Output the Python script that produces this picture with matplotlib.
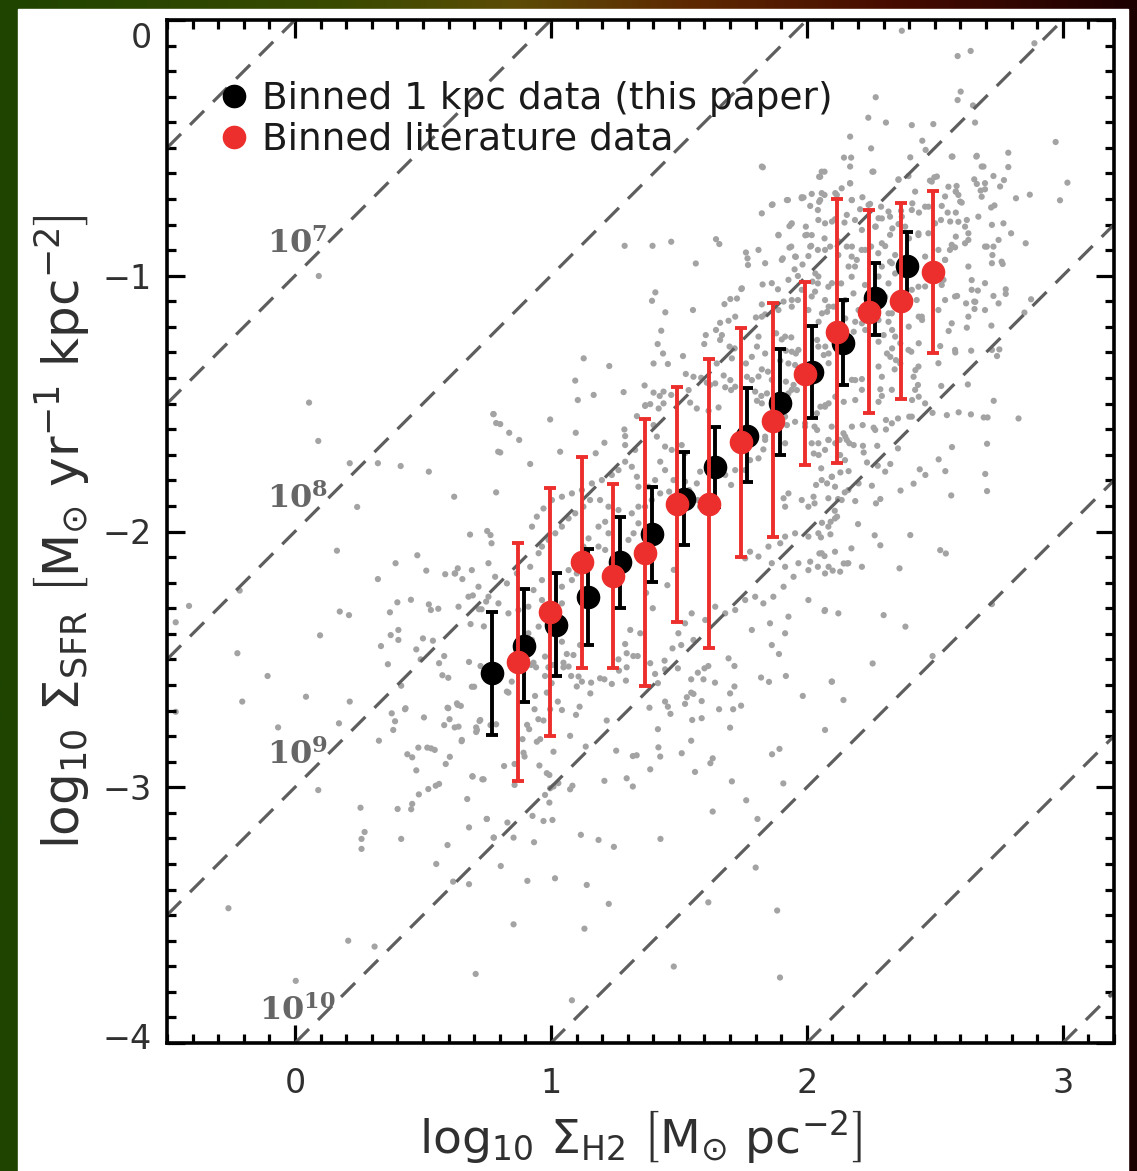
import numpy as np
import matplotlib
matplotlib.use("Agg")
import matplotlib.pyplot as plt
from matplotlib.lines import Line2D
from matplotlib.patches import Rectangle
from matplotlib.ticker import MultipleLocator, FixedLocator
from matplotlib.transforms import ScaledTranslation

plt.rcParams['font.family'] = ['DejaVu Sans']
plt.rcParams['mathtext.fontset'] = 'dejavusans'

# ---------------- data ----------------
# binned 1 kpc data (this paper)
bin_x = [0.770, 0.893, 1.020, 1.145, 1.271, 1.395, 1.521, 1.642, 1.766, 1.895, 2.020, 2.143, 2.266, 2.391]
bin_y = [-2.554, -2.447, -2.366, -2.257, -2.120, -2.010, -1.873, -1.747, -1.625, -1.498, -1.376, -1.262, -1.087, -0.961]
bin_hi = [-2.314, -2.225, -2.163, -2.070, -1.942, -1.825, -1.690, -1.590, -1.440, -1.288, -1.196, -1.095, -0.950, -0.829]
bin_lo = [-2.796, -2.668, -2.564, -2.444, -2.300, -2.196, -2.053, -1.903, -1.808, -1.701, -1.556, -1.427, -1.232, -1.095]

# binned literature data
lit_x = [0.870, 0.995, 1.120, 1.242, 1.366, 1.492, 1.616, 1.742, 1.867, 1.991, 2.117, 2.241, 2.367, 2.492]
lit_y = [-2.509, -2.314, -2.120, -2.174, -2.083, -1.894, -1.894, -1.649, -1.567, -1.384, -1.219, -1.141, -1.099, -0.987]
lit_hi = [-2.044, -1.829, -1.710, -1.815, -1.561, -1.436, -1.326, -1.203, -1.107, -1.023, -0.701, -0.743, -0.714, -0.669]
lit_lo = [-2.974, -2.798, -2.535, -2.533, -2.603, -2.353, -2.454, -2.099, -2.023, -1.740, -1.733, -1.535, -1.483, -1.303]

# depletion times of the dashed lines (yr)
tdep_lines = [1e6, 1e7, 1e8, 1e9, 1e10, 1e11, 1e12, 1e13]
tdep_labels = [7, 8, 9, 10]

x_ticks = [0, 1, 2, 3]
y_ticks = [0, -1, -2, -3, -4]

# individual 1 kpc pixels
pix_left = [
(0.093,-1.001),(0.055,-1.496),(0.091,-1.646),(0.214,-1.733),(0.324,-1.733),(0.413,-1.744),(0.523,-1.766),
(0.243,-1.904),(0.622,-1.864),(0.775,-1.541),(0.786,-1.576),(0.794,-1.688),(0.786,-1.847),(0.684,-2.012),
(0.751,-1.998),(0.764,-2.014),(0.768,-2.046),(0.164,-2.075),(0.478,-2.093),(0.393,-2.124),(0.513,-2.153),
(0.324,-2.186),(0.587,-2.167),(0.624,-2.164),(0.636,-2.144),(0.654,-2.186),(-0.414,-2.291),(-0.466,-2.355),
(-0.216,-2.231),(0.695,-2.250),(0.400,-2.277),(0.453,-2.267),(0.371,-2.316),(0.523,-2.285),(0.531,-2.307),
(0.560,-2.302),(0.747,-2.274),(0.729,-2.304),(0.719,-2.304),(0.175,-2.313),(0.211,-2.327),(0.686,-2.362),
(0.738,-2.371),(0.098,-2.406),(0.374,-2.405),(0.404,-2.385),(0.404,-2.424),(0.500,-2.418),(0.539,-2.427),
(0.336,-2.448),(0.474,-2.461),(0.491,-2.500),(0.583,-2.487),(0.563,-2.515),(-0.225,-2.476),(0.363,-2.519),
(0.680,-2.510),(0.725,-2.526),(-0.107,-2.565),(0.576,-2.562),(0.599,-2.572),(0.415,-2.603),(0.700,-2.607),
(0.043,-2.646),(-0.206,-2.665),(0.214,-2.665),(0.432,-2.691),(0.596,-2.689),(0.636,-2.678),
(-0.466,-2.705),(-0.066,-2.766),(0.172,-2.750),(0.378,-2.711),(0.430,-2.695),(0.391,-2.742),(0.384,-2.776),
(0.504,-2.727),(0.583,-2.757),(0.599,-2.691),(0.624,-2.766),(0.648,-2.682),(0.604,-2.734),(0.708,-2.766),
(0.708,-2.784),(0.721,-2.741),(0.764,-2.757),(0.786,-2.754),(0.328,-2.818),(0.439,-2.871),(0.458,-2.883),
(0.482,-2.845),(0.517,-2.845),(0.532,-2.848),(0.546,-2.854),(0.651,-2.820),(0.605,-2.881),(0.589,-2.909),
(0.474,-2.934),(0.693,-2.957),(0.732,-2.969),(0.091,-3.011),(0.521,-3.007),(0.550,-2.994),(0.563,-2.987),
(0.484,-3.028),(0.673,-3.046),(0.256,-3.080),(0.401,-3.085),(0.454,-3.086),(0.458,-3.065),(0.749,-3.124),
(0.680,-3.157),(0.272,-3.175),(0.260,-3.202),(0.260,-3.241),(0.415,-3.202),(0.777,-3.197),(0.596,-3.226),
(0.552,-3.300),(0.618,-3.369),(0.680,-3.379),(-0.260,-3.473),(0.208,-3.600),(0.311,-3.623),(0.706,-3.730),
(0.003,-3.757),
]

pix_low = [
(1.043,-2.431),(1.062,-2.479),(1.088,-2.483),(1.114,-2.444),(0.977,-2.489),(0.932,-2.513),(0.923,-2.522),
(0.942,-2.531),(0.990,-2.531),(1.010,-2.522),(1.049,-2.513),(1.049,-2.531),(1.069,-2.528),(1.079,-2.565),
(1.108,-2.567),(1.121,-2.587),(1.101,-2.606),(0.977,-2.565),(1.003,-2.593),(0.984,-2.630),(0.847,-2.587),
(0.828,-2.626),(0.834,-2.630),(1.157,-2.591),(1.154,-2.633),(1.192,-2.574),(1.209,-2.578),(1.238,-2.596),
(1.264,-2.500),(1.290,-2.440),(1.296,-2.476),(1.322,-2.487),(1.339,-2.487),(1.296,-2.531),(1.266,-2.544),
(1.293,-2.583),(1.388,-2.515),(1.407,-2.557),(1.444,-2.505),(1.446,-2.539),(1.475,-2.457),(1.509,-2.444),
(1.496,-2.535),(1.418,-2.593),(1.548,-2.578),(1.574,-2.552),(1.600,-2.535),(1.615,-2.526),(1.596,-2.578),
(1.641,-2.591),(1.694,-2.496),(1.717,-2.526),(1.548,-2.630),(1.531,-2.648),(1.524,-2.674),(1.557,-2.635),
(1.589,-2.663),(1.446,-2.665),(1.457,-2.685),(1.467,-2.713),(1.385,-2.689),(1.700,-2.633),(1.717,-2.606),
(1.657,-2.695),(1.712,-2.695),(1.743,-2.681),(1.863,-2.444),(1.891,-2.479),(1.918,-2.565),(1.821,-2.571),
(1.852,-2.588),(1.984,-2.643),
(0.936,-2.695),(0.997,-2.695),(1.043,-2.698),(1.027,-2.665),(0.938,-2.643),(1.098,-2.717),(1.112,-2.685),
(0.951,-2.734),(0.971,-2.739),(0.907,-2.756),(0.915,-2.773),(0.889,-2.812),(0.945,-2.822),(0.958,-2.812),
(0.893,-2.865),(0.897,-2.880),(1.010,-2.861),(1.075,-2.799),(1.136,-2.841),(1.218,-2.739),(1.255,-2.857),
(1.320,-2.878),(1.335,-2.875),(1.418,-2.773),(1.420,-2.844),(1.427,-2.880),(1.388,-2.930),(1.511,-2.867),
(1.548,-2.818),(1.552,-2.737),(1.589,-2.730),(1.700,-2.767),(1.632,-2.887),(1.623,-2.906),(1.563,-2.940),
(1.707,-2.977),(1.893,-2.850),(1.864,-2.871),(1.908,-2.985),(0.817,-2.917),(0.858,-2.909),(0.955,-2.915),
(0.984,-2.945),(0.994,-2.952),(1.029,-2.984),(1.010,-2.997),(0.997,-3.004),(1.084,-2.994),(1.075,-3.008),
(1.209,-2.975),(1.296,-2.965),(1.320,-2.997),(0.858,-2.991),(0.737,-2.969),
(0.977,-3.030),(0.994,-3.060),(0.971,-3.132),(1.006,-3.128),(0.928,-3.112),(0.830,-3.138),(0.750,-3.124),
(0.854,-3.197),(0.776,-3.197),(0.934,-3.215),(1.117,-3.186),(1.186,-3.206),(1.246,-3.233),(1.428,-3.202),
(1.632,-3.095),(1.763,-3.051),(1.807,-3.124),(1.800,-3.314),(0.804,-3.308),(0.908,-3.366),(1.016,-3.356),
(1.140,-3.382),(1.226,-3.456),(0.854,-3.536),(1.131,-3.553),(1.615,-3.450),(1.884,-3.482),(1.480,-3.701),
(1.895,-3.744),(1.082,-3.833),(3.190,-3.810),
]

pix_top = [
(2.371,-0.042),(2.589,-0.141),(2.640,-0.121),(2.889,-0.091),(2.601,-0.280),(2.589,-0.313),(2.649,-0.334),
(2.269,-0.302),(2.240,-0.382),(2.309,-0.401),(2.410,-0.411),(2.494,-0.407),(2.657,-0.401),(2.169,-0.456),
(2.251,-0.502),(2.451,-0.472),(2.464,-0.508),(2.145,-0.538),(2.173,-0.538),(2.169,-0.573),(2.404,-0.537),
(2.569,-0.534),(2.662,-0.534),(2.787,-0.519),(2.787,-0.575),(2.690,-0.573),(2.972,-0.477),(3.018,-0.636),
(2.989,-0.705),(2.871,-0.683),(2.817,-0.697),(2.256,-0.593),(2.069,-0.593),(2.048,-0.613),(2.169,-0.639),
(2.358,-0.623),(2.397,-0.610),(2.481,-0.628),(2.498,-0.615),(2.553,-0.652),(2.585,-0.649),(2.582,-0.671),
(2.592,-0.684),(2.605,-0.714),(2.654,-0.623),(2.664,-0.641),(2.679,-0.667),(2.696,-0.662),(2.683,-0.691),
(2.729,-0.610),(2.770,-0.626),(2.720,-0.733),(2.733,-0.725),(2.768,-0.795),(2.798,-0.834),(2.855,-0.873),
(2.703,-0.886),(2.729,-0.886),(2.725,-0.919),(2.761,-0.945),(2.765,-0.954),(2.644,-1.017),(2.668,-1.058),
(2.654,-1.101),(2.729,-1.079),(2.777,-1.053),(2.777,-1.071),(2.587,-1.079),(2.876,-1.092),(2.850,-1.144),
(1.980,-0.693),(2.019,-0.680),(2.069,-0.684),(2.136,-0.658),(2.175,-0.704),(2.217,-0.693),(2.247,-0.719),
(2.290,-0.730),(2.325,-0.769),(2.368,-0.746),(2.412,-0.717),(2.438,-0.753),(2.475,-0.730),(2.527,-0.727),
(2.550,-0.753),(2.582,-0.753),(2.524,-0.782),(2.592,-0.789),(2.625,-0.782),(2.631,-0.834),(2.582,-0.847),
(2.618,-0.873),(2.559,-0.899),(2.579,-0.889),(2.540,-0.938),(2.529,-1.017),(2.475,-0.834),(2.436,-0.841),
(2.399,-0.854),(2.358,-0.798),(2.334,-0.815),(2.293,-0.776),(2.269,-0.808),(2.208,-0.740),(2.188,-0.782),
(2.147,-0.792),(2.110,-0.779),(2.071,-0.795),(2.019,-0.841),(1.996,-0.808),(2.069,-0.854),(2.043,-0.899),
(2.091,-0.886),(2.006,-0.923),(2.123,-0.919),(2.156,-0.886),(2.175,-0.925),(2.188,-0.964),(2.214,-0.899),
(2.251,-0.886),(2.279,-0.912),(2.306,-0.884),(2.325,-0.945),(2.345,-0.991),(2.293,-0.964),(2.175,-1.004),
(2.134,-1.030),(2.084,-1.043),(2.043,-1.030),(2.032,-1.062),(2.071,-1.095),(2.006,-1.134),(2.104,-1.121),
(2.182,-1.069),(2.227,-1.036),(2.319,-1.030),(2.436,-1.043),(2.429,-1.095),(2.449,-1.160),(2.527,-1.036),
(2.540,-1.095),(2.306,-1.082),(2.332,-1.147),(2.052,-0.704),(2.117,-0.684),(1.746,-1.049),
]

pix_right = [
(2.554,-1.216),(2.625,-1.203),(2.655,-1.130),(2.622,-1.108),(2.658,-1.102),(2.721,-1.195),(2.752,-1.288),
(2.743,-1.314),(2.642,-1.293),(2.580,-1.300),(2.521,-1.275),(2.525,-1.431),(2.629,-1.425),(2.730,-1.489),
(2.827,-1.558),(2.547,-1.545),(2.593,-1.534),(2.641,-1.542),(2.691,-1.554),(2.706,-1.554),(2.491,-1.536),
(2.567,-1.670),(2.704,-1.657),(2.515,-1.718),(2.541,-1.764),(2.697,-1.775),(2.704,-1.842),(2.564,-1.859),
(2.463,-1.779),(2.441,-1.757),(2.417,-1.813),(2.366,-1.840),(2.404,-2.014),(2.521,-2.073),(2.543,-2.086),
(2.362,-2.144),(2.300,-2.327),(2.385,-2.372),(2.723,-2.284),(2.491,-2.487),(2.257,-2.516),(2.098,-2.587),
(2.069,-2.311),
(2.400,-1.551),(2.356,-1.558),(2.309,-1.564),(2.309,-1.601),(2.261,-1.594),(2.218,-1.584),(2.219,-1.665),
(2.275,-1.665),(2.356,-1.675),(2.326,-1.736),(2.306,-1.766),(2.277,-1.743),(2.235,-1.730),(2.222,-1.691),
(2.166,-1.655),(2.183,-1.662),(2.150,-1.629),(2.128,-1.642),(2.085,-1.642),(2.040,-1.603),(2.030,-1.590),
(2.027,-1.695),(2.046,-1.701),(2.056,-1.753),(2.098,-1.786),(2.131,-1.769),(2.163,-1.764),(2.202,-1.812),
(2.254,-1.821),(2.270,-1.890),(2.287,-1.873),(2.189,-1.881),(2.148,-1.847),(2.122,-1.873),(2.118,-1.942),
(2.109,-1.919),(2.079,-1.812),(2.036,-1.818),(2.030,-1.890),(2.059,-1.966),(2.092,-2.011),(2.055,-2.023),
(2.049,-2.086),(2.069,-2.096),(2.043,-2.138),(2.085,-2.138),(2.101,-2.153),(2.144,-2.125),(2.157,-2.125),
(2.174,-2.066),(2.215,-2.138),(2.200,-1.971),(2.265,-2.015),(2.287,-2.054),(2.093,-1.962),
(2.059,-1.147),(2.079,-1.141),(2.046,-1.180),(2.150,-1.167),(2.189,-1.180),(2.215,-1.186),(2.183,-1.219),
(2.228,-1.212),(2.319,-1.180),(2.333,-1.212),(2.300,-1.232),(2.280,-1.258),(2.333,-1.284),(2.365,-1.264),
(2.408,-1.297),(2.437,-1.264),(2.450,-1.173),(2.437,-1.160),(2.319,-1.147),(2.398,-1.199),(2.040,-1.251),
(2.072,-1.277),(2.066,-1.310),(2.085,-1.304),(2.189,-1.408),(2.215,-1.404),(2.293,-1.395),(2.287,-1.444),
(2.293,-1.470),(2.280,-1.493),(2.189,-1.486),(2.144,-1.493),(2.111,-1.473),(2.072,-1.506),(2.053,-1.512),
(2.417,-1.395),(2.434,-1.427),(2.424,-1.369),(2.348,-1.330),(2.365,-1.343),(2.343,-1.366),(2.313,-1.304),
(2.326,-1.317),(2.437,-1.473),(2.411,-1.486),
]

pix_mid = [
(1.828,-0.576),(1.866,-0.721),(1.926,-0.704),(1.987,-0.694),(2.013,-0.727),(2.048,-0.711),(2.052,-0.613),
(2.043,-0.743),(1.939,-0.798),(1.932,-0.806),(1.889,-0.842),(1.994,-0.842),(1.939,-0.886),(1.932,-0.890),
(2.017,-0.883),(1.906,-0.932),(1.957,-0.926),(1.983,-0.956),(1.952,-0.975),(1.965,-1.001),(2.033,-0.991),
(2.022,-1.023),(1.288,-0.883),(1.397,-0.883),(1.470,-0.867),(1.645,-0.857),(1.658,-0.876),(1.762,-0.909),
(1.768,-0.932),(1.770,-0.958),(1.566,-0.952),(1.827,-1.034),(1.744,-1.052),(1.887,-1.053),(1.408,-1.065),
(1.555,-1.134),(1.447,-1.143),(1.678,-1.111),(1.701,-1.091),(1.727,-1.089),(1.824,-1.112),(1.801,-1.163),
(1.837,-1.151),(1.909,-1.101),(1.941,-1.095),(1.965,-1.095),(1.720,-1.160),(1.661,-1.184),(1.694,-1.176),
(1.645,-1.212),(1.668,-1.232),(1.661,-1.251),(1.605,-1.232),(1.599,-1.267),(1.431,-1.215),(1.417,-1.267),
(1.698,-1.277),(1.718,-1.284),(1.785,-1.317),(1.805,-1.277),(1.837,-1.304),(1.880,-1.225),(1.902,-1.249),
(1.939,-1.241),(1.918,-1.293),(1.941,-1.297),(1.957,-1.304),(1.896,-1.332),(1.928,-1.343),(1.954,-1.349),
(1.824,-1.366),(1.848,-1.375),(1.438,-1.304),(1.457,-1.345),(1.401,-1.343),(1.516,-1.314),(1.648,-1.343),
(1.707,-1.323),(1.762,-1.343),(1.527,-1.384),(1.557,-1.395),(1.587,-1.399),(1.609,-1.418),(1.622,-1.427),
(1.642,-1.421),(1.675,-1.390),(1.701,-1.408),(1.720,-1.434),(1.766,-1.395),(1.785,-1.408),(1.681,-1.436),
(1.704,-1.447),(1.366,-1.429),(1.401,-1.457),(1.425,-1.470),(1.440,-1.453),(1.470,-1.466),(1.440,-1.499),
(1.421,-1.519),(1.538,-1.447),(1.544,-1.496),(1.369,-1.506),(1.336,-1.549),(1.570,-1.519),(1.616,-1.528),
(1.655,-1.515),(1.798,-1.453),(1.822,-1.470),(1.844,-1.460),(1.805,-1.489),(1.918,-1.414),(1.948,-1.427),
(1.961,-1.447),(1.928,-1.460),(1.128,-1.323),(1.095,-1.410),(1.167,-1.466),(1.105,-1.486),(1.228,-1.353),
(1.284,-1.455),(1.395,-1.098),
(1.824,-0.573),(2.058,-0.593),(2.169,-0.638),(2.260,-0.593),(2.358,-0.625),(2.423,-0.671),(2.488,-0.632),
(2.508,-0.612),(2.566,-0.534),(2.664,-0.531),(2.683,-0.573),(2.696,-0.638),(2.755,-0.651),(2.582,-0.671),
(2.599,-0.710),(2.540,-0.690),(2.462,-0.730),(2.410,-0.743),(2.371,-0.769),(2.319,-0.749),(2.280,-0.775),
(2.241,-0.723),(2.176,-0.704),(2.111,-0.677),(2.058,-0.677),(1.980,-0.697),(1.922,-0.704),(1.863,-0.723),
(1.824,-0.756),(1.889,-0.840),(1.941,-0.795),(2.000,-0.840),(2.045,-0.782),(2.098,-0.788),(2.156,-0.762),
(2.215,-0.821),(2.267,-0.808),(2.325,-0.840),(2.384,-0.808),(2.436,-0.834),(2.501,-0.795),(2.560,-0.788),
(2.618,-0.808),(2.670,-0.769),(2.723,-0.801),(2.749,-0.860),(2.696,-0.886),(2.631,-0.860),(2.566,-0.879),
(2.514,-0.899),(2.462,-0.925),(2.403,-0.938),(2.345,-0.919),(2.293,-0.873),(2.228,-0.899),(2.176,-0.886),
(2.124,-0.866),(2.071,-0.899),(2.013,-0.886),(1.954,-0.925),(1.902,-0.938),(1.837,-0.951),(1.811,-0.899),
(1.863,-1.029),(1.928,-1.016),(1.980,-1.055),(2.045,-1.003),(2.098,-1.029),(2.163,-0.964),(2.195,-0.938),
(2.280,-1.003),(2.332,-0.951),(2.410,-1.055),(2.462,-1.042),(2.534,-1.016),(2.579,-1.081),(2.644,-1.055),
(2.696,-1.029),(2.723,-0.951),(2.631,-0.964),(2.540,-0.938),(2.514,-1.134),(2.566,-1.186),(2.631,-1.160),
(2.696,-1.134),(2.749,-1.108),(2.723,-1.290),(2.579,-1.290),(2.514,-1.342),(2.436,-1.355),(2.397,-1.290),
(2.345,-1.238),(2.280,-1.173),(2.202,-1.134),(2.150,-1.095),(2.085,-1.121),(2.019,-1.081),(1.941,-1.121),
(1.889,-1.134),(1.824,-1.160),(1.811,-1.238),(1.915,-1.238),(1.967,-1.290),(2.045,-1.277),(2.085,-1.342),
(2.019,-1.420),(1.941,-1.446),(1.863,-1.407),(1.811,-1.394),(1.824,-1.499),(1.915,-1.551),(1.993,-1.590),
(2.085,-1.499),(2.176,-1.407),(2.215,-1.446),(2.280,-1.355),(2.332,-1.446),(2.423,-1.446),(2.462,-1.499),
(2.410,-1.551),(2.332,-1.577),(2.267,-1.603),(2.176,-1.590),(2.111,-1.655),(2.019,-1.655),(1.915,-1.655),
(1.837,-1.629),
]

pix_core = [
(0.776,-1.541),(0.802,-1.580),(0.837,-1.614),(0.876,-1.642),(0.802,-1.691),(0.919,-1.736),(0.997,-1.562),
(1.097,-1.614),(1.036,-1.688),(1.209,-1.653),(1.175,-1.694),(1.287,-1.601),(1.290,-1.627),(1.290,-1.662),
(1.329,-1.681),(1.368,-1.509),(1.388,-1.502),(1.401,-1.584),(1.414,-1.629),(1.446,-1.668),(1.472,-1.681),
(1.427,-1.727),(1.511,-1.662),(1.524,-1.694),(1.446,-1.760),(1.479,-1.799),(1.524,-1.805),(1.540,-1.838),
(1.462,-1.844),(1.570,-1.812),(1.583,-1.766),(1.574,-1.877),(1.583,-1.903),(1.681,-1.779),(1.704,-1.818),
(1.720,-1.760),(1.759,-1.760),(1.778,-1.721),(1.811,-1.714),(1.830,-1.679),(1.837,-1.642),(1.882,-1.597),
(1.922,-1.584),(1.954,-1.571),(1.993,-1.577),(2.039,-1.538),(2.071,-1.512),(2.097,-1.590),(2.143,-1.616),
(2.156,-1.642),(2.084,-1.642),(2.045,-1.655),(2.071,-1.681),(2.130,-1.701),(2.149,-1.721),(2.097,-1.786),
(2.058,-1.799),(2.110,-1.825),(2.162,-1.838),(2.136,-1.877),(2.084,-1.870),(2.026,-1.864),(1.980,-1.877),
(1.928,-1.851),(1.909,-1.870),(1.915,-1.903),(2.006,-1.903),(2.110,-1.949),(2.084,-1.981),(2.045,-2.007),
(2.006,-2.020),(1.954,-2.007),(1.915,-2.020),(1.896,-2.046),(1.850,-2.059),(1.811,-2.098),(1.778,-2.079),
(1.759,-2.105),(1.863,-2.124),(1.915,-2.138),(1.967,-2.124),(2.013,-2.118),(2.058,-2.085),(2.110,-2.079),
(2.162,-2.124),(2.130,-2.157),(2.071,-2.164),(2.006,-2.151),(1.948,-2.177),(1.909,-2.216),(1.869,-2.255),
(1.830,-2.281),(1.798,-2.255),(1.759,-2.268),(1.720,-2.307),(1.681,-2.320),(1.642,-2.294),(1.603,-2.346),
(1.550,-2.320),(1.524,-2.359),(1.498,-2.398),(1.557,-2.424),(1.785,-2.385),(1.856,-2.359),(1.928,-2.333),
(2.006,-2.268),(2.071,-2.307),(2.123,-2.320),(1.915,-2.398),(2.097,-2.587),(2.143,-2.659),(2.071,-2.776),
(0.694,-2.958),(0.652,-2.815),(0.639,-2.763),(0.633,-2.672),(0.691,-2.607),(0.724,-2.737),(0.711,-2.776),
(0.926,-2.424),(0.912,-2.398),(0.952,-2.372),(0.912,-2.294),(0.873,-2.307),(0.834,-2.320),(0.795,-2.281),
(0.756,-2.255),(0.717,-2.216),(0.678,-2.255),(0.639,-2.294),(0.626,-2.164),(0.691,-2.151),(0.756,-2.124),
(0.782,-2.177),(0.828,-2.203),(0.867,-2.164),(0.919,-2.138),(0.965,-2.190),(0.932,-2.229),(0.965,-2.268),
(1.043,-2.281),(1.043,-2.216),(1.082,-2.190),(1.069,-2.151),(1.101,-2.164),(1.127,-2.059),(1.147,-2.027),
(1.186,-1.981),(1.212,-1.962),(1.225,-2.007),(1.186,-2.059),(1.212,-2.072),(1.271,-2.085),(1.303,-2.033),
(1.323,-2.007),(1.342,-1.968),(1.316,-1.929),(1.264,-1.916),(1.225,-1.903),(1.192,-1.877),(1.153,-1.877),
(1.127,-1.903),(1.095,-1.929),(1.069,-1.949),(1.043,-1.981),(1.017,-2.007),(0.991,-2.033),(0.965,-2.059),
(0.952,-2.085),(0.926,-1.981),(0.945,-1.942),(0.971,-1.910),(1.004,-1.877),(1.043,-1.864),(1.082,-1.851),
(1.121,-1.838),(1.160,-1.812),(1.199,-1.799),(1.238,-1.779),(1.264,-1.760),(1.290,-1.727),(1.316,-1.747),
(1.336,-1.786),(1.342,-1.825),(1.381,-1.825),(1.407,-1.799),(1.427,-1.851),(1.394,-1.877),(1.368,-1.903),
(1.342,-1.903),(1.349,-2.398),(1.310,-2.385),(1.398,-2.300),(1.372,-2.240),(1.455,-2.210),(1.480,-2.150),
]

# ---------------- figure ----------------
W, H = 1137, 1171
fig = plt.figure(figsize=(W / 100, H / 100), dpi=100)

# dark framed background with a coloured top strip
bg = fig.add_axes([0, 0, 1, 1], zorder=-5)
stops = np.array([[0.00, 0x1e, 0x44, 0x00], [0.30, 0x3a, 0x4a, 0x00], [0.45, 0x5c, 0x4c, 0x06],
                  [0.60, 0x5e, 0x2a, 0x02], [0.78, 0x48, 0x0c, 0x00], [1.00, 0x1c, 0x00, 0x00]])
u = np.linspace(0, 1, 400)
grad = np.stack([np.interp(u, stops[:, 0], stops[:, k]) for k in (1, 2, 3)], axis=-1) / 255.0
bg.imshow(grad[None, :, :], extent=[0, 1, 0, 1], aspect='auto')
bg.add_patch(Rectangle((18 / W, 0), (1128 - 18) / W, 1 - 9 / H, color='white', zorder=2))
bg.set_xlim(0, 1); bg.set_ylim(0, 1); bg.axis('off')

ax = fig.add_axes([167 / W, 1 - 1043 / H, (1114 - 167) / W, (1043 - 20) / H])
ax.set_facecolor('white')

pts = np.array(pix_left + pix_low + pix_top + pix_right + pix_mid + pix_core)
ax.scatter(pts[:, 0], pts[:, 1], s=20, color='#a3a3a3', edgecolors='none', zorder=1)

for t in tdep_lines:
    ax.axline((0, 6 - np.log10(t)), slope=1, color='#5e5e5e', lw=2.3,
              dashes=(6.2, 4.0), zorder=2)
for e in tdep_labels:
    ax.text(0.01, 6 - e + 0.09, r'$\mathbf{10^{%d}}$' % e, math_fontfamily='dejavuserif',
            fontsize=23, color='#666666', ha='center', va='baseline', zorder=2)

bx, by = np.array(bin_x), np.array(bin_y)
ax.errorbar(bx, by, yerr=[by - np.array(bin_lo), np.array(bin_hi) - by], fmt='o', color='black',
            ms=16, elinewidth=2.8, capsize=4.5, capthick=2.8, zorder=4)
lx, ly = np.array(lit_x), np.array(lit_y)
ax.errorbar(lx, ly, yerr=[ly - np.array(lit_lo), np.array(lit_hi) - ly], fmt='o', color='#ec2f2c',
            ms=16, elinewidth=2.8, capsize=4.5, capthick=2.8, zorder=5)

ax.set_xlim(-0.5, 3.2)
ax.set_ylim(-4.0, 0.0)
ax.xaxis.set_major_locator(FixedLocator(x_ticks))
ax.yaxis.set_major_locator(FixedLocator(y_ticks))
ax.xaxis.set_minor_locator(MultipleLocator(0.1))
ax.yaxis.set_minor_locator(MultipleLocator(0.1))
ax.tick_params(which='both', direction='in', top=True, right=True, width=2.3, color='black')
ax.tick_params(which='major', length=13)
ax.tick_params(which='minor', length=6.5)
ax.tick_params(axis='x', which='major', pad=17, labelsize=24, labelcolor='#303030')
ax.tick_params(axis='y', which='major', pad=11, labelsize=24, labelcolor='#303030')
for s in ax.spines.values():
    s.set_linewidth(2.6)
    s.set_color('black')

ax.set_xlabel(r'$\mathrm{log_{10}\ \Sigma_{H2}\ \left[M_{\odot}\ pc^{-2}\right]}$', fontsize=34,
              color='#303030', labelpad=6)
ax.set_ylabel(r'$\mathrm{log_{10}\ \Sigma_{SFR}\ \left[M_{\odot}\ yr^{-1}\ kpc^{-2}\right]}$', fontsize=36,
              color='#303030', labelpad=8)

handles = [Line2D([], [], marker='o', ls='none', color='black', ms=16),
           Line2D([], [], marker='o', ls='none', color='#ec2f2c', ms=16)]
ax.legend(handles, ['Binned 1 kpc data (this paper)', 'Binned literature data'],
          loc='upper left', bbox_to_anchor=(0.055, 0.94), frameon=False, fontsize=27,
          handlelength=0.8, handletextpad=0.35, labelspacing=0.12, borderpad=0, borderaxespad=0,
          labelcolor='#1a1a1a')

# IDL-style: end labels of the y axis nudged inward (applied after ticks exist)
fig.canvas.draw()
for tick in ax.yaxis.get_major_ticks():
    txt = tick.label1.get_text().replace('\u2212', '-')
    if txt == '0':
        tick.label1.set_transform(tick.label1.get_transform() + ScaledTranslation(0, -0.15, fig.dpi_scale_trans))
    elif txt == '-4':
        tick.label1.set_transform(tick.label1.get_transform() + ScaledTranslation(0, 0.07, fig.dpi_scale_trans))

fig.savefig('out.png', dpi=100, facecolor='white')
